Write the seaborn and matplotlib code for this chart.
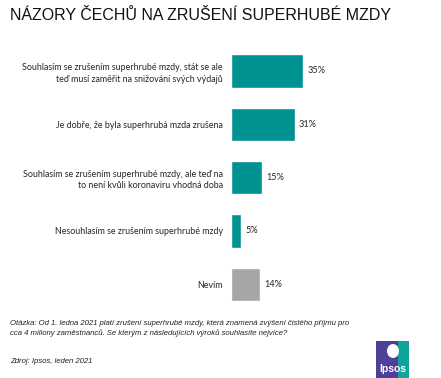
import matplotlib
matplotlib.use("Agg")
import matplotlib.pyplot as plt
import seaborn as sns
import pandas as pd
from matplotlib.patches import Rectangle, Ellipse

categories = [
    "Souhlasím se zrušením superhrubé mzdy, stát se ale\nteď musí zaměřit na snižování svých výdajů",
    "Je dobře, že byla superhrubá mzda zrušena",
    "Souhlasím se zrušením superhrubé mzdy, ale teď na\nto není kvůli koronaviru vhodná doba",
    "Nesouhlasím se zrušením superhrubé mzdy",
    "Nevím",
]
values = [35, 31, 15, 5, 14]
value_labels = ["35%", "31%", "15%", "5%", "14%"]
colors = ["#009191", "#009191", "#009191", "#009191", "#A6A6A6"]

title = "NÁZORY ČECHŮ NA ZRUŠENÍ SUPERHUBÉ MZDY"
note = ("Otázka: Od 1. ledna 2021 platí zrušení superhrubé mzdy, která znamená zvýšení čistého příjmu pro\n"
        "cca 4 miliony zaměstnanců. Se kterým z následujících výroků souhlasíte nejvíce?")
source = "Zdroj: Ipsos, leden 2021"

sns.set_theme(style="white")
plt.rcParams['font.family'] = ['Lato', 'DejaVu Sans']

df = pd.DataFrame({"cat": categories, "val": values})

W, H = 441, 378
fig = plt.figure(figsize=(W / 100, H / 100), dpi=100)
ax_left, ax_right = 231, 437
top_px, bot_px = 44.3, 311
ax = fig.add_axes([ax_left / W, 1 - bot_px / H, (ax_right - ax_left) / W, (bot_px - top_px) / H])

sns.barplot(data=df, y="cat", x="val", hue="cat", palette=colors, legend=False,
            orient="h", width=0.62, ax=ax, saturation=1)
ax.set_xlim(0, 100)
ax.set_ylim(4.5, -0.5)
ax.set_xlabel("")
ax.set_ylabel("")
ax.set_xticks([])
ax.tick_params(axis="y", length=0, pad=6, labelsize=6.4, labelcolor="#262626")
for lab in ax.get_yticklabels():
    lab.set_linespacing(1.4)
for s in ax.spines.values():
    s.set_visible(False)

for i, (v, lab) in enumerate(zip(values, value_labels)):
    ax.text(v + 2.0, i, lab, va="center", ha="left", fontsize=6.6, color="#262626")

fig.text(10 / W, 1 - 16 / H, title, fontsize=11.5, family="Liberation Sans",
         va="center", ha="left", color="#111111")
fig.text(10 / W, 1 - 328.5 / H, note, fontsize=5.55, family="Liberation Sans", style="italic",
         va="center", ha="left", color="#222222", linespacing=1.3)
fig.text(10 / W, 1 - 361.5 / H, source, fontsize=5.55, family="Liberation Sans", style="italic",
         va="center", ha="left", color="#222222")

# Ipsos logo
lx0, lx1, ly0, ly1 = 376, 409, 341, 378
fig.patches.append(Rectangle((lx0 / W, 1 - ly1 / H), (lx1 - lx0) / W, (ly1 - ly0) / H,
                             transform=fig.transFigure, facecolor="#4E3F97", edgecolor="none"))
fig.patches.append(Rectangle((398 / W, 1 - ly1 / H), (lx1 - 398) / W, (ly1 - ly0) / H,
                             transform=fig.transFigure, facecolor="#0FA39A", edgecolor="none"))
fig.patches.append(Ellipse((393 / W, 1 - 351 / H), 12 / W, 14 / H,
                           transform=fig.transFigure, facecolor="white", edgecolor="none"))
fig.text(392.5 / W, 1 - 369 / H, "Ipsos", fontsize=7.5, fontweight="bold", color="white",
         ha="center", va="center", family="Liberation Sans")

fig.savefig("out.png", dpi=100, facecolor="white")
